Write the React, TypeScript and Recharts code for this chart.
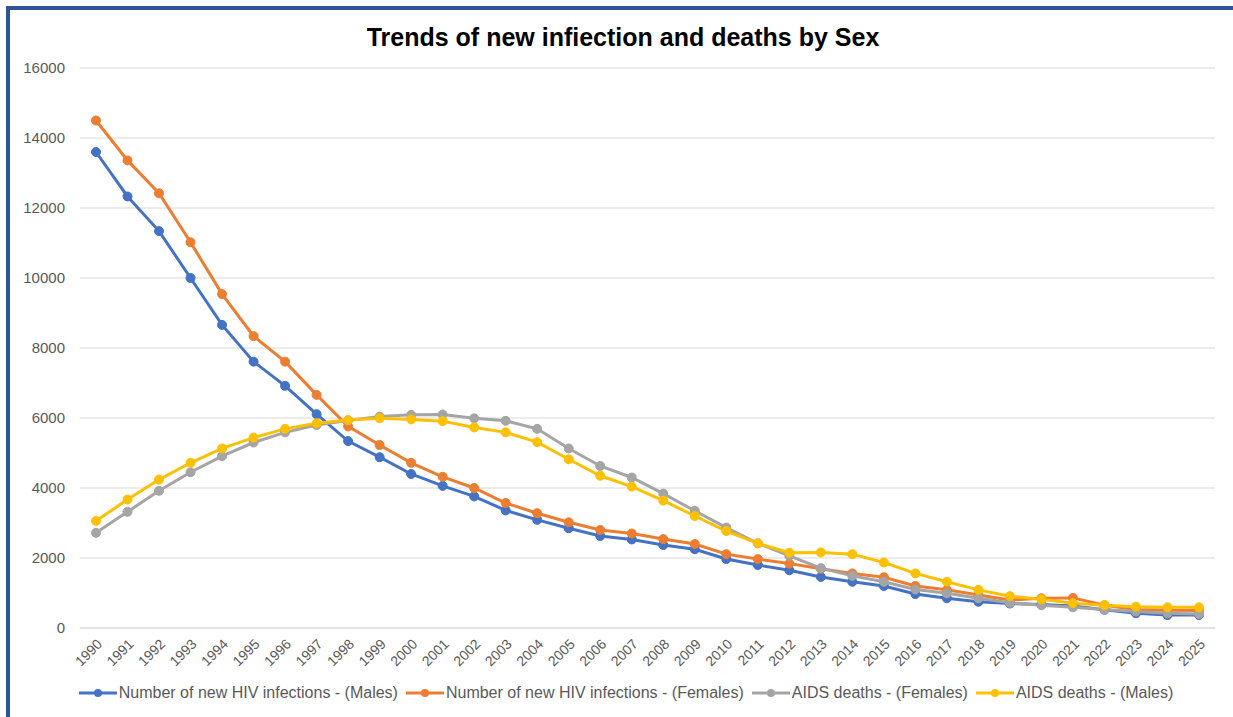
import { LineChart, Line, XAxis, YAxis, CartesianGrid } from 'recharts';

const years = [
  '1990', '1991', '1992', '1993', '1994', '1995', '1996', '1997', '1998', '1999',
  '2000', '2001', '2002', '2003', '2004', '2005', '2006', '2007', '2008', '2009',
  '2010', '2011', '2012', '2013', '2014', '2015', '2016', '2017', '2018', '2019',
  '2020', '2021', '2022', '2023', '2024', '2025',
];

const malesInfections = [
  13600, 12330, 11340, 10000, 8660, 7610, 6920, 6110, 5340, 4880,
  4400, 4060, 3760, 3360, 3090, 2850, 2630, 2530, 2370, 2250,
  1970, 1800, 1650, 1460, 1320, 1200, 970, 850, 750, 700,
  670, 630, 520, 420, 370, 370,
];

const femalesInfections = [
  14500, 13360, 12420, 11020, 9540, 8340, 7610, 6660, 5760, 5230,
  4720, 4320, 4000, 3570, 3280, 3020, 2800, 2700, 2540, 2400,
  2110, 1970, 1840, 1690, 1560, 1450, 1200, 1090, 940, 800,
  850, 860, 650, 530, 510, 500,
];

const femalesDeaths = [
  2720, 3320, 3920, 4450, 4910, 5300, 5590, 5800, 5930, 6040,
  6090, 6100, 5990, 5920, 5690, 5130, 4630, 4300, 3840, 3350,
  2870, 2420, 2060, 1710, 1490, 1320, 1100, 990, 850, 720,
  650, 590, 530, 470, 420, 400,
];

const malesDeaths = [
  3060, 3670, 4240, 4720, 5130, 5440, 5690, 5850, 5940, 5990,
  5960, 5910, 5730, 5590, 5310, 4820, 4350, 4040, 3640, 3200,
  2770, 2420, 2150, 2160, 2110, 1870, 1560, 1320, 1090, 910,
  820, 710, 650, 610, 590, 590,
];

const yTicks = [0, 2000, 4000, 6000, 8000, 10000, 12000, 14000, 16000];

const series = [
  { key: 'malesInfections', name: 'Number of new HIV infections - (Males)', color: '#4472C4' },
  { key: 'femalesInfections', name: 'Number of new HIV infections - (Females)', color: '#ED7D31' },
  { key: 'femalesDeaths', name: 'AIDS deaths - (Females)', color: '#A5A5A5' },
  { key: 'malesDeaths', name: 'AIDS deaths - (Males)', color: '#FFC000' },
];

const data = years.map((year, i) => ({
  year,
  malesInfections: malesInfections[i],
  femalesInfections: femalesInfections[i],
  femalesDeaths: femalesDeaths[i],
  malesDeaths: malesDeaths[i],
}));

const font = '"Liberation Sans", Arial, sans-serif';

export default function App() {
  return (
    <div
      style={{
        position: 'fixed',
        left: 0,
        top: 0,
        width: 1233,
        height: 717,
        background: '#fff',
        overflow: 'hidden',
        fontFamily: font,
      }}
    >
      <div style={{ position: 'absolute', left: 6, top: 6, right: 0, height: 4, background: '#2F5597' }} />
      <div style={{ position: 'absolute', left: 6, top: 6, bottom: 0, width: 4, background: '#2F5597' }} />

      <div
        style={{
          position: 'absolute',
          top: 22,
          left: 0,
          width: 1246,
          textAlign: 'center',
          fontSize: 25,
          fontWeight: 'bold',
          color: '#000',
          lineHeight: '30px',
        }}
      >
        Trends of new infiection and deaths by Sex
      </div>

      <div style={{ position: 'absolute', left: 0, top: 0 }}>
        <LineChart
          width={1233}
          height={717}
          data={data}
          margin={{ top: 68, right: 18, left: 20, bottom: 39 }}
          style={{ fontFamily: font }}
        >
          <CartesianGrid vertical={false} stroke="#D9D9D9" strokeWidth={1} />
          <XAxis
            dataKey="year"
            interval={0}
            height={50}
            padding={{ left: 16, right: 16 }}
            axisLine={{ stroke: '#D9D9D9' }}
            tickLine={false}
            tickSize={0}
            tickMargin={10}
            tick={{ fontSize: 14, fill: '#595959', angle: -45, textAnchor: 'end' }}
          />
          <YAxis
            width={60}
            domain={[0, 16000]}
            ticks={yTicks}
            axisLine={false}
            tickLine={false}
            tickSize={0}
            tickMargin={15}
            tick={{ fontSize: 15, fill: '#595959' }}
          />
          {series.map((s) => (
            <Line
              key={s.key}
              type="linear"
              dataKey={s.key}
              name={s.name}
              stroke={s.color}
              strokeWidth={3}
              dot={{ r: 4.5, fill: s.color, stroke: s.color, strokeWidth: 1 }}
              isAnimationActive={false}
            />
          ))}
        </LineChart>
      </div>

      <div
        style={{
          position: 'absolute',
          top: 683,
          left: 0,
          width: 1252,
          display: 'flex',
          justifyContent: 'center',
          alignItems: 'center',
          gap: 8,
          height: 20,
        }}
      >
        {series.map((s) => (
          <div key={s.key} style={{ display: 'flex', alignItems: 'center' }}>
            <svg width={38} height={12} style={{ marginRight: 2 }}>
              <line x1={0} y1={6} x2={38} y2={6} stroke={s.color} strokeWidth={3} />
              <circle cx={19} cy={6} r={4} fill={s.color} />
            </svg>
            <span style={{ fontSize: 16, color: '#595959', whiteSpace: 'nowrap' }}>{s.name}</span>
          </div>
        ))}
      </div>
    </div>
  );
}
